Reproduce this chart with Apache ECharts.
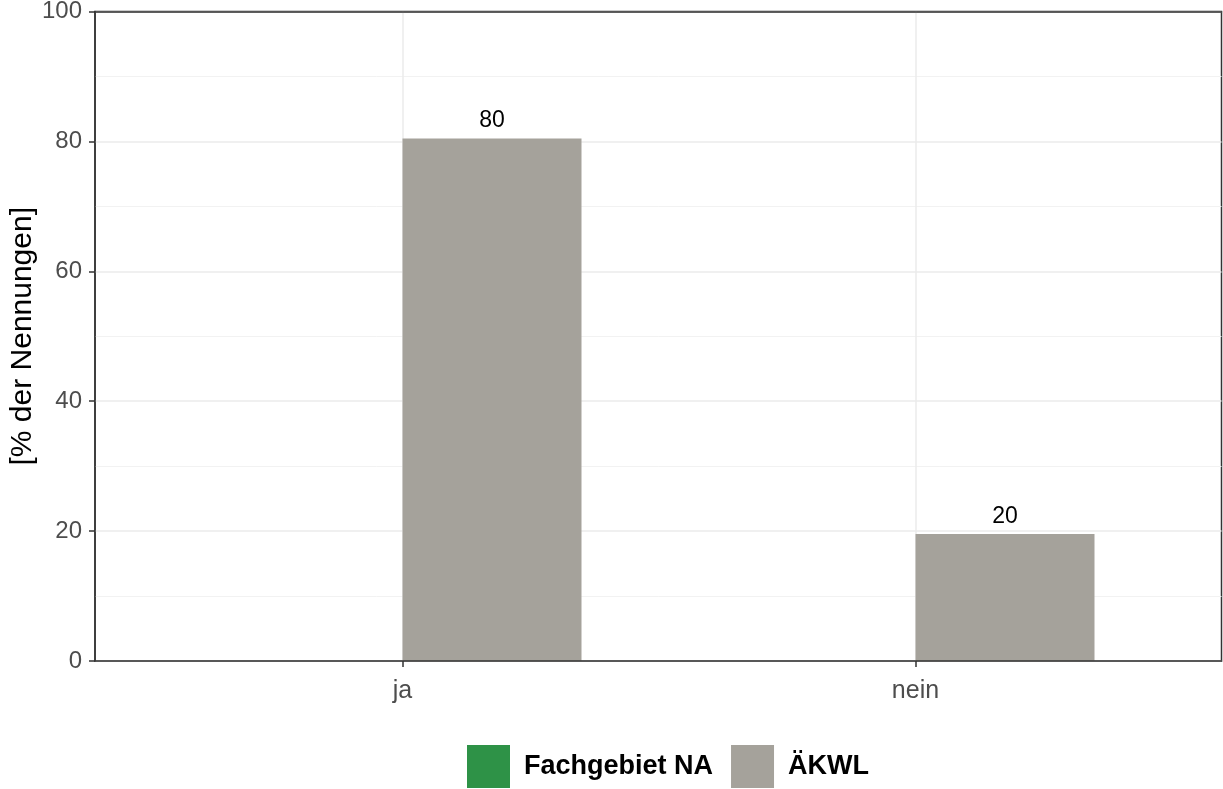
<!DOCTYPE html>
<html>
<head>
<meta charset="utf-8">
<script src="https://cdn.jsdelivr.net/npm/echarts@6/dist/echarts.min.js"></script>
<style>
html,body{margin:0;padding:0;background:#fff;}
#c{width:1223px;height:789px;}
</style>
</head>
<body>
<div id="c"></div>
<script>
const categories = ['ja', 'nein'];
const seriesNames = ['Fachgebiet NA', 'ÄKWL'];
const fachgebietValues = [null, null];
const akwlValues = [80.45, 19.55];
const yTicks = [0, 20, 40, 60, 80, 100];

const FONT = 'Liberation Sans, Arial, sans-serif';
const chart = echarts.init(document.getElementById('c'), null, {renderer: 'canvas'});

const labelCfg = {
  show: true, position: 'top', distance: 6,
  color: '#000', fontSize: 23, fontFamily: FONT,
  formatter: p => (p.value == null ? '' : String(Math.round(p.value)))
};

const frameLine = {show: true, onZero: false, lineStyle: {color: '#333', width: 1.5}};

chart.setOption({
  animation: false,
  backgroundColor: '#fff',
  grid: [
    {left: 95, right: 1.5, top: 11.5, bottom: 128, show: true, borderColor: '#333', borderWidth: 1.5,
     backgroundColor: 'transparent', outerBoundsMode: 'none', containLabel: false},
    {left: 402.5, width: 513, top: 11.5, bottom: 128, outerBoundsMode: 'none', containLabel: false}
  ],
  legend: {
    top: 745, left: 467, padding: 0,
    itemWidth: 43, itemHeight: 43, itemGap: 18,
    icon: 'rect',
    textStyle: {fontSize: 27, fontWeight: 'bold', color: '#000', fontFamily: FONT, padding: [0, 0, 0, 9]},
    data: seriesNames
  },
  xAxis: [
    {gridIndex: 0, type: 'value', min: 0, max: 1, z: 10, position: 'bottom',
     axisLine: frameLine, axisTick: {show: false}, axisLabel: {show: false}, splitLine: {show: false}},
    {gridIndex: 1, type: 'category', data: categories, boundaryGap: false,
     axisLine: {show: false},
     axisTick: {show: true, length: 6, lineStyle: {color: '#333', width: 1.5}},
     axisLabel: {color: '#4d4d4d', fontSize: 25, fontFamily: FONT, margin: 18},
     splitLine: {show: true, lineStyle: {color: '#ebebeb', width: 1.5}}},
    {gridIndex: 0, type: 'value', min: 0, max: 1, z: 10, position: 'top',
     axisLine: frameLine, axisTick: {show: false}, axisLabel: {show: false}, splitLine: {show: false}}
  ],
  yAxis: [
    {gridIndex: 0, type: 'value', min: yTicks[0], max: yTicks[yTicks.length - 1], interval: 20,
     name: '[% der Nennungen]', nameLocation: 'middle', nameRotate: 90, nameGap: 57, nameMoveOverlap: false,
     nameTextStyle: {fontSize: 30, color: '#000', fontFamily: FONT},
     axisLine: {show: true, lineStyle: {color: '#333', width: 1.5}},
     axisTick: {show: true, length: 6, lineStyle: {color: '#333', width: 1.5}},
     axisLabel: {color: '#4d4d4d', fontSize: 24, fontFamily: FONT, margin: 13},
     splitLine: {show: true, lineStyle: {color: '#ebebeb', width: 1.5}},
     minorTick: {show: false, splitNumber: 2},
     minorSplitLine: {show: true, lineStyle: {color: '#f2f2f2', width: 1}}},
    {gridIndex: 1, type: 'value', min: 0, max: 100, show: false, splitLine: {show: false}}
  ],
  series: [
    {name: seriesNames[0], type: 'bar', xAxisIndex: 1, yAxisIndex: 1, data: fachgebietValues,
     barWidth: 179, barGap: '0%', clip: false, itemStyle: {color: '#2e9247'}, label: labelCfg},
    {name: seriesNames[1], type: 'bar', xAxisIndex: 1, yAxisIndex: 1, data: akwlValues,
     barWidth: 179, barGap: '0%', clip: false, itemStyle: {color: '#a5a29b'}, label: labelCfg}
  ]
});
</script>
</body>
</html>
